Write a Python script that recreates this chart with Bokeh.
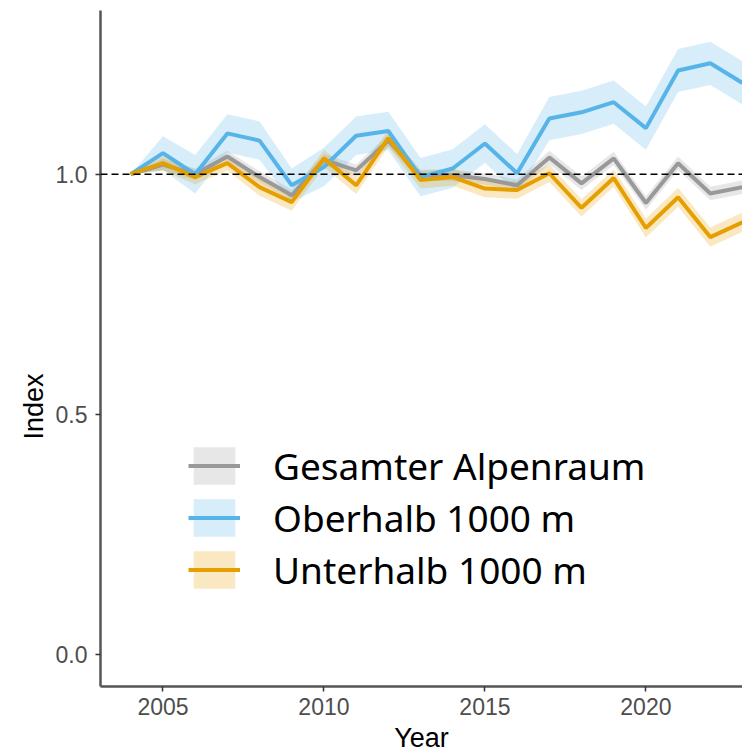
from bokeh.plotting import figure
from bokeh.models import Span, Legend, LegendItem, Range1d, FixedTicker, NumeralTickFormatter, ColumnDataSource, Title
from bokeh.embed import file_html
from bokeh.resources import INLINE

years = list(range(2004, 2024))
gesamt = [1.0, 1.02, 1.0, 1.037, 0.994, 0.956, 1.03, 1.008, 1.07, 0.998, 0.998, 0.99, 0.977, 1.035, 0.981, 1.033, 0.94, 1.023, 0.96, 0.973]
ober = [1.0, 1.044, 1.0, 1.085, 1.07, 0.977, 1.015, 1.08, 1.09, 0.994, 1.012, 1.064, 1.002, 1.116, 1.129, 1.15, 1.096, 1.216, 1.231, 1.19]
unter = [1.0, 1.023, 0.994, 1.023, 0.973, 0.942, 1.033, 0.977, 1.075, 0.988, 0.994, 0.97, 0.967, 1.002, 0.93, 0.992, 0.888, 0.952, 0.869, 0.90]
gesamt_err = [0.0, 0.012, 0.012, 0.012, 0.012, 0.012, 0.012, 0.012, 0.012, 0.012, 0.012, 0.012, 0.012, 0.014, 0.014, 0.014, 0.014, 0.014, 0.014, 0.014]
ober_err = [0.0, 0.035, 0.04, 0.04, 0.04, 0.035, 0.04, 0.04, 0.04, 0.04, 0.04, 0.04, 0.04, 0.045, 0.045, 0.045, 0.045, 0.045, 0.045, 0.045]
unter_err = [0.0, 0.015, 0.015, 0.015, 0.018, 0.018, 0.018, 0.018, 0.018, 0.018, 0.018, 0.018, 0.018, 0.018, 0.018, 0.018, 0.02, 0.02, 0.02, 0.02]

series_names = ["Gesamter Alpenraum", "Oberhalb 1000 m", "Unterhalb 1000 m"]
series_vals = [gesamt, ober, unter]
series_errs = [gesamt_err, ober_err, unter_err]
series_colors = ["#999999", "#56B4E9", "#E69F00"]

x_ticks = [2005, 2010, 2015, 2020]
y_ticks = [0.0, 0.5, 1.0]

p = figure(width=742, height=755, output_backend="svg", toolbar_location=None,
           x_range=Range1d(2003.06, 2023.0), y_range=Range1d(-0.067, 1.341),
           min_border_left=100, min_border_right=0, min_border_top=10, min_border_bottom=68)
p.outline_line_color = None
p.xgrid.visible = False
p.ygrid.visible = False
p.background_fill_color = "white"

band_renderers = []
line_renderers = []
for name, vals, errs, col in zip(series_names, series_vals, series_errs, series_colors):
    lo = [v - e for v, e in zip(vals, errs)]
    hi = [v + e for v, e in zip(vals, errs)]
    src = ColumnDataSource(dict(x=years, y=vals, lo=lo, hi=hi))
    b = p.varea(x="x", y1="lo", y2="hi", source=src, fill_color=col, fill_alpha=0.24)
    band_renderers.append((b, src))
for (b, src), col in zip(band_renderers, series_colors):
    l = p.line(x="x", y="y", source=src, line_color=col, line_width=4)
    line_renderers.append(l)

p.add_layout(Span(location=1.0, dimension="width", line_color="black", line_dash="7 4", line_width=1.5))

items = [LegendItem(label=n, renderers=[b[0], l]) for n, b, l in zip(series_names, band_renderers, line_renderers)]
legend = Legend(items=items, location=(88, 91), padding=0, margin=0, spacing=1,
                glyph_width=52, glyph_height=47, label_height=47, label_standoff=33,
                label_text_font="Noto Sans", label_text_font_size="37px", label_text_color="black",
                border_line_color=None, background_fill_alpha=0)
p.add_layout(legend, "center")

for ax in (p.xaxis[0], p.yaxis[0]):
    ax.axis_line_color = "#555555"
    ax.axis_line_width = 2.5
    ax.major_tick_line_color = "#333333"
    ax.major_tick_line_width = 1.5
    ax.major_tick_out = 5
    ax.major_tick_in = 0
    ax.minor_tick_line_color = None
    ax.major_label_text_font = "Liberation Sans"
    ax.major_label_text_font_size = "23px"
    ax.major_label_text_color = "#4d4d4d"
    ax.axis_label_text_font = "Liberation Sans"
    ax.axis_label_text_font_size = "27px"
    ax.axis_label_text_font_style = "normal"
    ax.axis_label_text_color = "black"

p.xaxis.ticker = FixedTicker(ticks=x_ticks)
p.yaxis.ticker = FixedTicker(ticks=y_ticks)
p.yaxis.formatter = NumeralTickFormatter(format="0.0")
p.xaxis.axis_label = "Year"
p.xaxis.major_label_standoff = 6
p.xaxis.axis_label_standoff = 5
p.yaxis.major_label_standoff = 8

p.add_layout(Title(text="Index", align="left", offset=247, standoff=8,
                   text_font="Liberation Sans", text_font_size="27px",
                   text_font_style="normal", text_color="black"), "left")

open("out.html", "w").write(file_html(p, INLINE))
